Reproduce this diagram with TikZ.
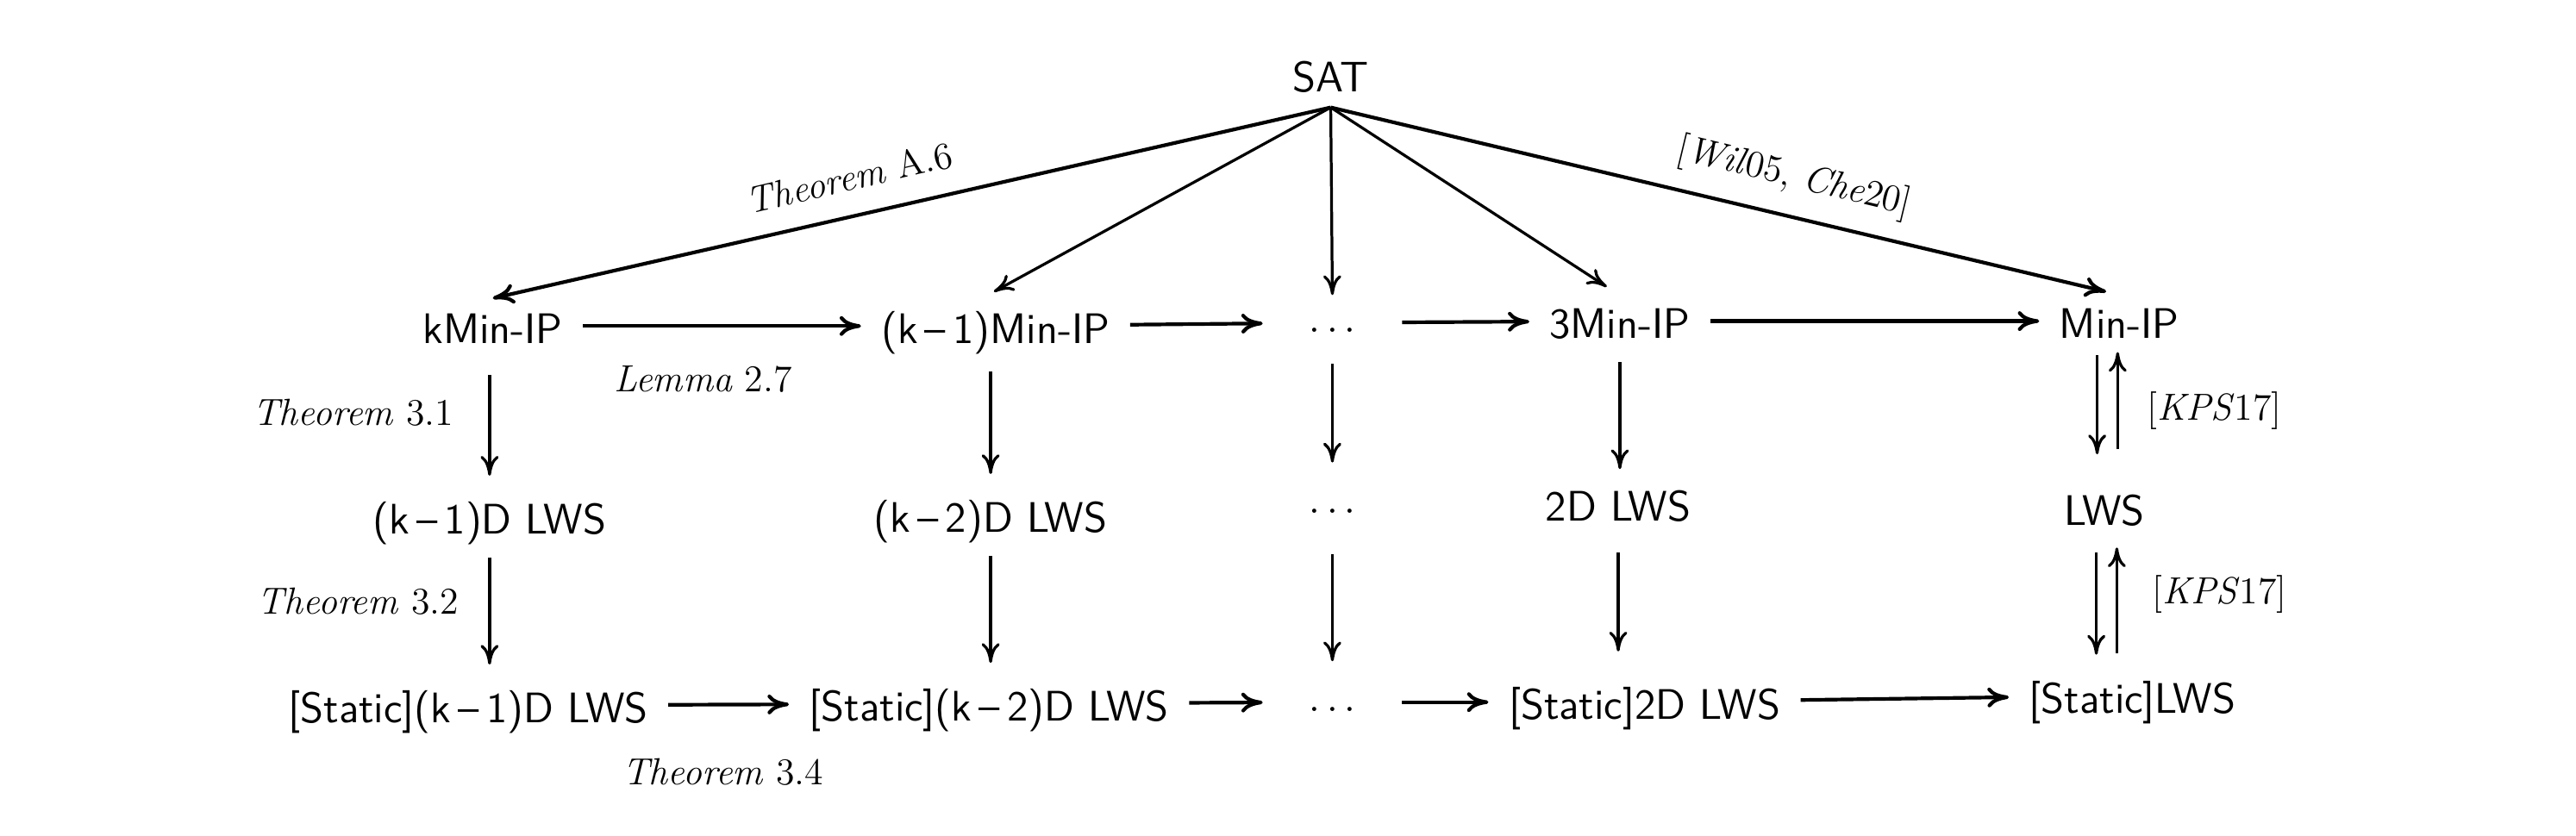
\documentclass[tikz,border=0pt]{standalone}
\usetikzlibrary{arrows.meta}
\begin{document}
\begin{tikzpicture}[x=0.5pt,y=-0.5pt,
  cell/.style={font=\fontsize{13}{15}\sffamily, anchor=base, inner xsep=6pt, inner ysep=5pt, text height=12.5pt, text depth=2pt},
  dotcell/.style={cell, inner xsep=14pt},
  lbl/.style={font=\fontsize{11.5}{13}\selectfont, inner sep=0pt},
  arr/.style={-{To[length=6pt,width=5.5pt]}, line width=0.85pt},
  arrk/.style={-{To[length=6.5pt,width=6pt]}, line width=1.1pt}]
\useasboundingbox (0,0) rectangle (1568,509);
% nodes
\node[cell] (sat) at (810,56) {SAT};
\node[cell] (kmin) at (300,209) {kMin-IP};
\node[cell] (kmmin) at (606,209) {(k\,--\,1)Min-IP};
\node[dotcell] (d1) at (811,207) {$\cdots$};
\node[cell] (m3) at (986,206) {3Min-IP};
\node[cell] (mip) at (1290,206) {Min-IP};
\node[cell] (lws1) at (298,325) {(k\,--\,1)D LWS};
\node[cell] (lws2) at (603,324) {(k\,--\,2)D LWS};
\node[dotcell] (d2) at (811,317) {$\cdots$};
\node[cell] (lws3) at (985,317) {2D LWS};
\node[cell] (lws) at (1281,320) {LWS};
\node[cell] (s1) at (285,440) {[Static](k\,--\,1)D LWS};
\node[cell] (s2) at (602,439) {[Static](k\,--\,2)D LWS};
\node[dotcell] (d3) at (811,438) {$\cdots$};
\node[cell] (s3) at (1001,438) {[Static]2D LWS};
\node[cell] (s) at (1298,434) {[Static]LWS};
% labels
\node[lbl, rotate=13] (la6) at (517,108) {\textit{Theorem} A.6};
\node[lbl, rotate=-13.5] (lwc) at (1092,108) {[\textit{Wil}05, \textit{Che}20]};
\node[lbl] (l27) at (428,231) {\textit{Lemma} 2.7};
\node[lbl] (t31) at (215,251) {\textit{Theorem} 3.1};
\node[lbl] (t32) at (218,366) {\textit{Theorem} 3.2};
\node[lbl] (t34) at (440,470) {\textit{Theorem} 3.4};
\node[lbl] (kps1) at (1348,250) {[\textit{KPS}17]};
\node[lbl] (kps2) at (1351,362) {[\textit{KPS}17]};
% SAT diagonals
\draw[arrk] ([yshift=2.5pt]sat.south) -- ([yshift=-4pt]kmin.north);
\draw[arr] ([yshift=2.5pt]sat.south) -- ([xshift=-0.5pt,yshift=-2pt]kmmin.north);
\draw[arr] ([yshift=2.5pt]sat.south) -- ([yshift=-4pt]d1.north);
\draw[arr] ([yshift=2.5pt]sat.south) -- ([xshift=-4pt,yshift=-2pt]m3.north);
\draw[arrk] ([yshift=2.5pt]sat.south) -- ([xshift=-4pt,yshift=-3.5pt]mip.north);
% row 1 horizontals
\draw[arrk] (kmin) -- (kmmin);
\draw[arrk] (kmmin) -- (d1);
\draw[arrk] (d1) -- (m3);
\draw[arrk] (m3) -- (mip);
% row 3 horizontals
\draw[arrk] (s1) -- (s2);
\draw[arrk] (s2) -- (d3);
\draw[arrk] (d3) -- (s3);
\draw[arrk] (s3) -- (s);
% verticals
\draw[arr, shorten <=2.5pt] (kmin.south -| lws1) -- (lws1.north);
\draw[arr] (lws1.south) -- (lws1.south |- s1.north);
\draw[arr, shorten <=1.5pt] (kmmin.south -| lws2) -- (lws2.north);
\draw[arr] (lws2.south) -- (lws2.south |- s2.north);
\draw[arr] (d1.south) -- (d2.north);
\draw[arr, shorten <=3pt] (d2.south) -- (d3.north);
\draw[arr, shorten >=-2pt] (m3.south) -- (m3.south |- lws3.north);
\draw[arr, shorten <=2.5pt, shorten >=3pt] (lws3.south) -- (lws3.south |- s3.north);
% Min-IP <-> LWS <-> [Static]LWS
\draw[arr, shorten <=-2pt, shorten >=4pt] ([xshift=-6.75pt]mip.south) -- ([xshift=-6.75pt]mip.south |- lws.north);
\draw[arr, shorten <=5.5pt, shorten >=-3pt] ([xshift=-0.5pt]mip.south |- lws.north) -- ([xshift=-0.5pt]mip.south);
\draw[arr, shorten <=1pt] ([xshift=-2.5pt]lws.south) -- ([xshift=-2.5pt]lws.south |- s.north);
\draw[arr, shorten <=0.5pt, shorten >=-0.5pt] ([xshift=3.75pt]lws.south |- s.north) -- ([xshift=3.75pt]lws.south);
\end{tikzpicture}
\end{document}
